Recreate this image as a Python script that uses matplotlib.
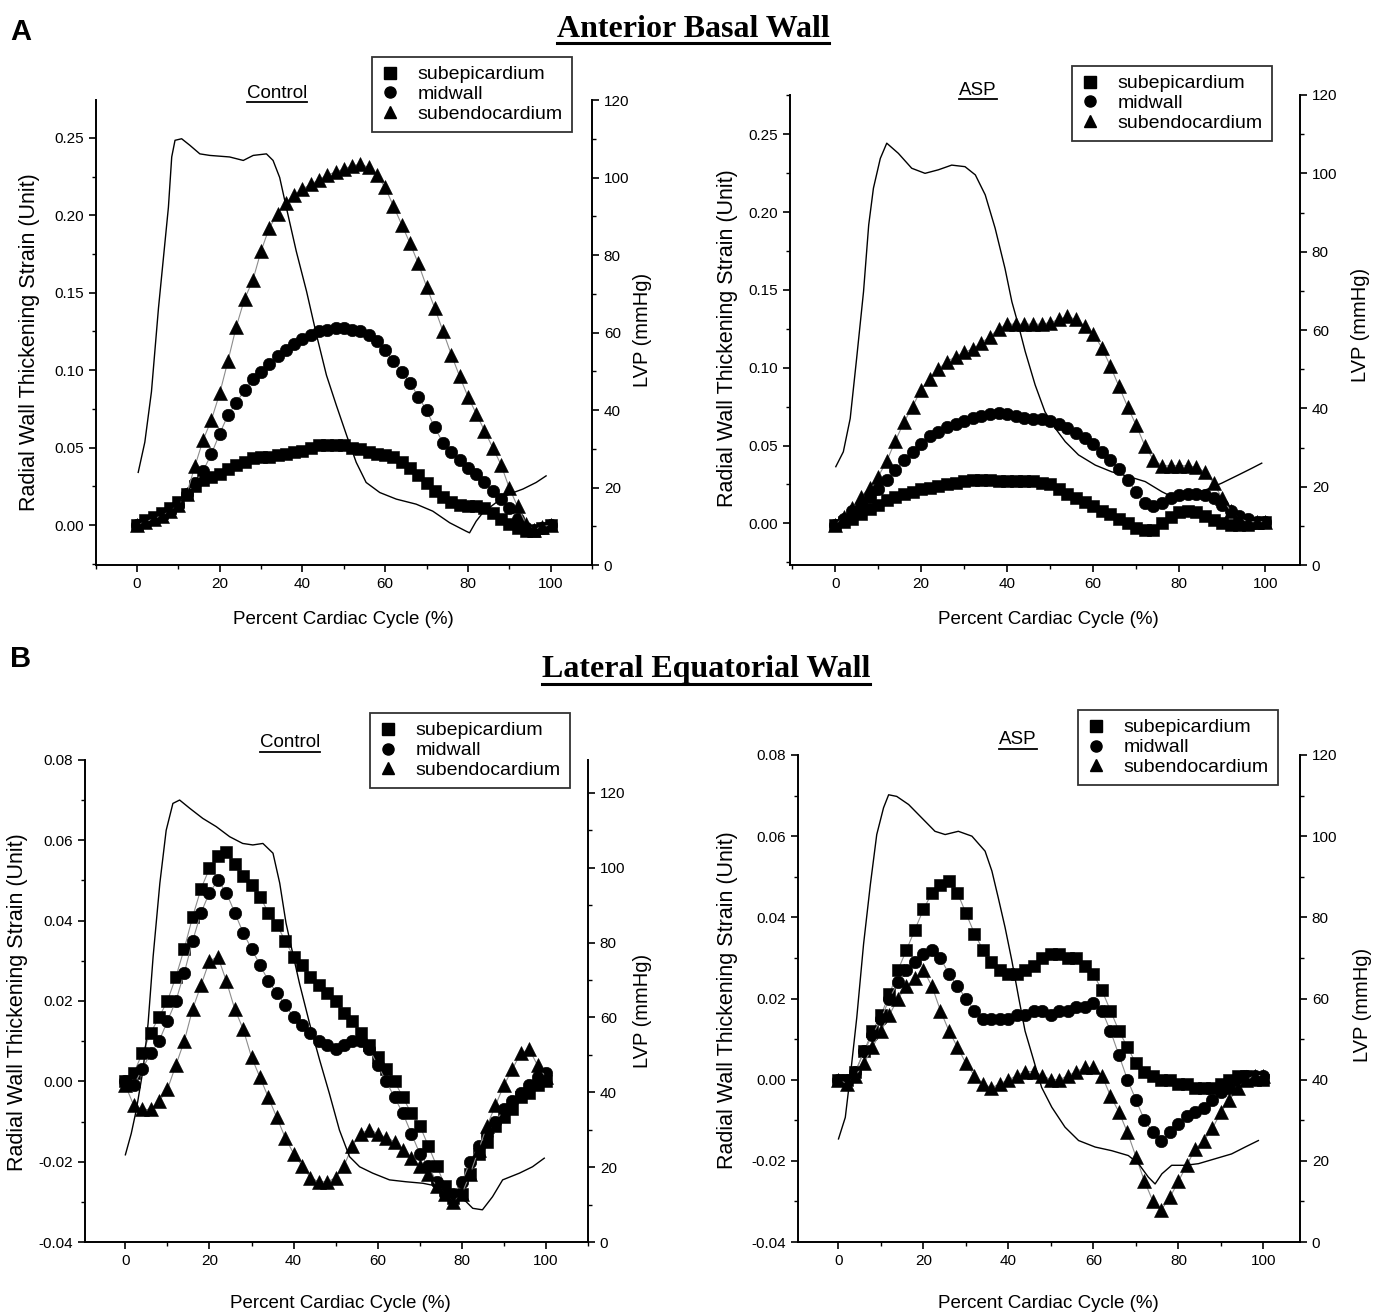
import numpy as np
import matplotlib.pyplot as plt
from matplotlib.lines import Line2D
from matplotlib.ticker import MultipleLocator, FormatStrFormatter

plt.rcParams['font.family'] = ['Liberation Sans', 'DejaVu Sans']

W, H = 1381, 1316

# percent of cardiac cycle (strain samples every 2 %)
pct = np.arange(0, 101, 2)

# ---------------- A: anterior basal wall ----------------
a_ctrl_epi = [0.000, 0.003, 0.005, 0.008, 0.011, 0.015, 0.020, 0.025, 0.029, 0.031,
              0.033, 0.036, 0.039, 0.041, 0.043, 0.044, 0.044, 0.045, 0.046, 0.047,
              0.048, 0.050, 0.052, 0.052, 0.052, 0.052, 0.050, 0.049, 0.047, 0.046,
              0.045, 0.044, 0.041, 0.037, 0.032, 0.027, 0.022, 0.018, 0.015, 0.013,
              0.012, 0.012, 0.011, 0.008, 0.004, 0.001, -0.002, -0.004, -0.004, -0.002, 0.000]
a_ctrl_mid = [0.000, 0.002, 0.004, 0.006, 0.009, 0.013, 0.020, 0.027, 0.035, 0.046,
              0.059, 0.071, 0.079, 0.087, 0.094, 0.099, 0.104, 0.109, 0.113, 0.117,
              0.120, 0.123, 0.125, 0.126, 0.127, 0.127, 0.126, 0.125, 0.123, 0.119,
              0.113, 0.106, 0.099, 0.092, 0.083, 0.074, 0.063, 0.053, 0.047, 0.042,
              0.037, 0.033, 0.028, 0.022, 0.017, 0.011, 0.004, -0.002, -0.003, -0.002, 0.000]
a_ctrl_endo = [0.000, 0.002, 0.004, 0.006, 0.009, 0.013, 0.020, 0.038, 0.055, 0.068,
               0.085, 0.106, 0.128, 0.146, 0.158, 0.177, 0.192, 0.201, 0.208, 0.213,
               0.217, 0.220, 0.223, 0.226, 0.228, 0.230, 0.232, 0.233, 0.231, 0.226,
               0.218, 0.206, 0.194, 0.182, 0.169, 0.154, 0.140, 0.125, 0.110, 0.096,
               0.083, 0.072, 0.061, 0.050, 0.039, 0.024, 0.012, 0.001, -0.003, -0.001, 0.000]
a_ctrl_lvp_x = [0.3, 1.9, 3.5, 5.2, 6.4, 7.6, 8.4, 9.2, 10.8, 12.8, 15.2, 17.6, 22.4, 25.7,
                28.1, 31.3, 32.9, 34.5, 36.1, 38.5, 41, 43.4, 45.8, 48.2, 50.7, 53, 55.4,
                58.7, 62.7, 67.5, 71.5, 75.6, 79.6, 80.4, 82, 83.6, 86.8, 90, 93.3, 96.5, 98.9]
a_ctrl_lvp = [23.9, 31.7, 44.7, 66.3, 79.3, 92.3, 105.3, 109.6, 110, 108.3, 106.1, 105.7,
              105.3, 104.4, 105.7, 106.1, 104.4, 100, 92.3, 81, 70.6, 59.4, 49, 41.2, 33.4,
              26.5, 21.3, 18.7, 17, 15.7, 13.9, 10.9, 8.7, 8.3, 11.3, 13.5, 16.1, 18.3, 19.6,
              21.3, 23]

a_asp_epi = [-0.001, 0.001, 0.003, 0.006, 0.009, 0.012, 0.015, 0.017, 0.019, 0.020,
             0.022, 0.023, 0.024, 0.025, 0.026, 0.027, 0.028, 0.028, 0.028, 0.027,
             0.027, 0.027, 0.027, 0.027, 0.026, 0.025, 0.022, 0.019, 0.016, 0.014,
             0.011, 0.008, 0.006, 0.003, 0.000, -0.003, -0.004, -0.004, 0.000, 0.004,
             0.007, 0.008, 0.007, 0.005, 0.002, 0.000, -0.001, -0.001, -0.001, 0.000, 0.001]
a_asp_mid = [-0.001, 0.003, 0.008, 0.012, 0.017, 0.022, 0.028, 0.034, 0.041, 0.046,
             0.051, 0.056, 0.059, 0.062, 0.064, 0.066, 0.068, 0.069, 0.070, 0.071,
             0.070, 0.069, 0.068, 0.067, 0.067, 0.066, 0.064, 0.061, 0.058, 0.055,
             0.051, 0.046, 0.041, 0.035, 0.028, 0.020, 0.013, 0.011, 0.013, 0.016,
             0.018, 0.019, 0.019, 0.018, 0.016, 0.012, 0.008, 0.005, 0.003, 0.001, 0.001]
a_asp_endo = [-0.001, 0.004, 0.010, 0.017, 0.023, 0.030, 0.040, 0.053, 0.065, 0.075,
              0.086, 0.093, 0.099, 0.104, 0.107, 0.110, 0.112, 0.116, 0.120, 0.125,
              0.128, 0.128, 0.128, 0.128, 0.128, 0.129, 0.131, 0.133, 0.131, 0.127,
              0.122, 0.113, 0.101, 0.088, 0.075, 0.063, 0.050, 0.041, 0.037, 0.037,
              0.037, 0.037, 0.036, 0.033, 0.026, 0.016, 0.008, 0.003, 0.001, 0.001, 0.001]
a_asp_lvp_x = [0.15, 1.9, 3.5, 5, 6.6, 7.8, 8.9, 10.5, 12, 14.7, 17.8, 20.9, 24, 27.1, 30.2,
               32.6, 34.9, 37.2, 39.5, 41.1, 42.6, 44.2, 46.5, 48.8, 51.2, 53.5, 56.6, 60.5,
               64.3, 68.2, 72.1, 76, 79.1, 82.2, 86, 89.9, 93.8, 96.9, 99.2]
a_asp_lvp = [25.1, 28.9, 37.4, 52.8, 69.8, 86.8, 96.2, 103.8, 107.7, 105.1, 101.3, 100,
             100.9, 102.1, 101.7, 99.6, 94.5, 86, 75.7, 67.2, 61.3, 54.5, 46, 39.1, 34.9,
             31.5, 28.1, 25.5, 23.8, 22.6, 21.3, 18.7, 17, 17.9, 19.1, 20.9, 23, 24.7, 26]

# ---------------- B: lateral equatorial wall ----------------
b_ctrl_epi = [0.000, 0.002, 0.007, 0.012, 0.016, 0.020, 0.026, 0.033, 0.041, 0.048,
              0.053, 0.056, 0.057, 0.054, 0.051, 0.049, 0.046, 0.042, 0.039, 0.035,
              0.031, 0.029, 0.026, 0.024, 0.022, 0.020, 0.017, 0.015, 0.012, 0.009,
              0.006, 0.003, 0.000, -0.004, -0.008, -0.011, -0.016, -0.021, -0.026, -0.029,
              -0.028, -0.023, -0.018, -0.015, -0.011, -0.009, -0.007, -0.004, -0.003, -0.001, 0.000]
b_ctrl_mid = [0.000, -0.001, 0.003, 0.007, 0.010, 0.015, 0.020, 0.027, 0.035, 0.042,
              0.047, 0.050, 0.047, 0.042, 0.037, 0.033, 0.029, 0.025, 0.022, 0.019,
              0.016, 0.014, 0.012, 0.010, 0.009, 0.008, 0.009, 0.010, 0.010, 0.008,
              0.004, 0.000, -0.004, -0.008, -0.013, -0.018, -0.021, -0.025, -0.028, -0.028,
              -0.025, -0.020, -0.016, -0.013, -0.010, -0.007, -0.005, -0.003, -0.001, 0.001, 0.002]
b_ctrl_endo = [-0.001, -0.006, -0.007, -0.007, -0.005, -0.002, 0.004, 0.010, 0.018, 0.024,
               0.030, 0.031, 0.025, 0.018, 0.013, 0.006, 0.001, -0.004, -0.009, -0.014,
               -0.018, -0.021, -0.024, -0.025, -0.025, -0.024, -0.021, -0.016, -0.013, -0.012,
               -0.013, -0.014, -0.015, -0.017, -0.019, -0.021, -0.023, -0.026, -0.028, -0.030,
               -0.028, -0.023, -0.017, -0.011, -0.006, -0.001, 0.003, 0.007, 0.008, 0.004, 0.001]
b_ctrl_lvp_x = [0, 1.4, 2.6, 4.2, 5.4, 6.6, 8.2, 9.7, 11.3, 12.9, 15.3, 18.4, 21.6, 24.8,
                27.9, 30.3, 32.7, 35.1, 36.7, 38.2, 39.8, 41.4, 43.8, 46.2, 48.5, 50.9, 53.3,
                55.7, 58.8, 62.8, 66.7, 70.7, 74.7, 77.8, 81, 82.6, 84.9, 87.3, 89.7, 93.7,
                96.8, 99.6]
b_ctrl_lvp = [23.3, 29, 35.3, 46, 58.4, 76.3, 95.9, 110, 117.2, 118.1, 115.9, 113.2, 111,
              108.3, 106.5, 106.1, 106.5, 103.9, 95.9, 85.2, 77.1, 69.1, 58.4, 48.6, 39.7,
              29.9, 22.8, 20.1, 18.4, 16.6, 16.1, 15.7, 14.8, 13, 10.8, 9, 8.6, 12.1, 16.6,
              18.4, 20.1, 22.4]

b_asp_epi = [0.000, 0.000, 0.002, 0.007, 0.012, 0.016, 0.021, 0.027, 0.032, 0.037,
             0.042, 0.046, 0.048, 0.049, 0.046, 0.041, 0.036, 0.032, 0.029, 0.027,
             0.026, 0.026, 0.027, 0.028, 0.030, 0.031, 0.031, 0.030, 0.030, 0.028,
             0.026, 0.022, 0.017, 0.012, 0.008, 0.004, 0.002, 0.001, 0.000, 0.000,
             -0.001, -0.001, -0.002, -0.002, -0.002, -0.001, 0.000, 0.001, 0.001, 0.000, 0.000]
b_asp_mid = [0.000, 0.000, 0.002, 0.007, 0.011, 0.015, 0.020, 0.024, 0.027, 0.029,
             0.031, 0.032, 0.030, 0.026, 0.023, 0.020, 0.017, 0.015, 0.015, 0.015,
             0.015, 0.016, 0.016, 0.017, 0.017, 0.016, 0.017, 0.017, 0.018, 0.018,
             0.019, 0.017, 0.012, 0.006, 0.000, -0.005, -0.010, -0.013, -0.015, -0.013,
             -0.011, -0.009, -0.008, -0.007, -0.005, -0.003, -0.002, 0.000, 0.001, 0.001, 0.001]
b_asp_endo = [0.000, -0.001, 0.001, 0.004, 0.008, 0.012, 0.016, 0.020, 0.023, 0.025,
              0.027, 0.023, 0.017, 0.012, 0.008, 0.004, 0.001, -0.001, -0.002, -0.001,
              0.000, 0.001, 0.002, 0.002, 0.001, 0.000, 0.000, 0.001, 0.002, 0.003,
              0.003, 0.001, -0.004, -0.008, -0.013, -0.019, -0.025, -0.030, -0.032, -0.029,
              -0.025, -0.021, -0.017, -0.015, -0.012, -0.008, -0.005, -0.002, 0.000, 0.001, 0.001]
b_asp_lvp_x = [0, 1.6, 3.1, 4.3, 5.9, 7.5, 9, 10.6, 11.8, 13.7, 16.5, 19.6, 22.7, 25.1, 28.2,
               31.4, 34.5, 36.1, 37.6, 39.2, 40.8, 42.4, 43.9, 45.5, 47.8, 50.2, 53.3, 56.5,
               60.4, 64.3, 68.2, 70.6, 72.9, 74.5, 76.1, 78.4, 81.6, 84.7, 88.6, 92.5, 95.7, 98.8]
b_asp_lvp = [25.4, 30.7, 43.9, 55.3, 73.4, 88.1, 100.4, 107, 110.2, 109.8, 107.8, 104.5,
             101.2, 100.4, 101.2, 100, 96.3, 91.4, 84.8, 77.5, 69.3, 60.2, 52, 46.3, 38.1,
             33.2, 28.3, 25, 23.4, 22.5, 21.3, 19.3, 16, 14.3, 16.8, 18.9, 18.9, 19.3, 20.5,
             21.7, 23.4, 25]

layer_names = ['subepicardium', 'midwall', 'subendocardium']
layer_markers = ['s', 'o', '^']
layer_sizes = [8.5, 9, 9.5]

fig = plt.figure(figsize=(W / 100, H / 100), dpi=100)


def rect(left, top, right, bottom):
    return [left / W, 1 - bottom / H, (right - left) / W, (bottom - top) / H]


def panel(box, xlim, ylim, ystep, lvp_top, series, lvp_x, lvp_y):
    ax = fig.add_axes(rect(*box))
    ax2 = ax.twinx()
    for vals, m, ms in zip(series, layer_markers, layer_sizes):
        ax.plot(pct, vals, color='0.55', lw=0.8, marker=m, ms=ms,
                mfc='black', mec='black', mew=0.4, zorder=3)
    ax2.plot(lvp_x, lvp_y, color='black', lw=1.0)
    ax.set_xlim(*xlim)
    ax.set_ylim(*ylim)
    ax2.set_ylim(0, lvp_top)
    ax.xaxis.set_major_locator(MultipleLocator(20))
    ax.xaxis.set_minor_locator(MultipleLocator(10))
    ax.yaxis.set_major_locator(MultipleLocator(ystep))
    ax.yaxis.set_minor_locator(MultipleLocator(ystep / 2))
    ax.yaxis.set_major_formatter(FormatStrFormatter('%.2f'))
    ax2.set_yticks([t for t in range(0, 121, 20)])
    ax2.yaxis.set_minor_locator(MultipleLocator(10))
    for a in (ax, ax2):
        a.spines['top'].set_visible(False)
        for s in ('left', 'right', 'bottom'):
            a.spines[s].set_linewidth(1.4)
        a.tick_params(which='major', direction='out', length=5, width=1.2, labelsize=11)
        a.tick_params(which='minor', direction='out', length=3, width=1.0)
    ax2.spines['left'].set_visible(False)
    ax2.spines['bottom'].set_visible(False)
    ax.spines['right'].set_visible(False)
    ax.patch.set_visible(False)
    return ax


def legend(ax, x, y):
    handles = [Line2D([], [], ls='none', marker=m, ms=8, color='black') for m in layer_markers]
    leg = ax.legend(handles, layer_names, loc='upper left',
                    bbox_to_anchor=(x / W, 1 - y / H), bbox_transform=fig.transFigure,
                    frameon=True, fancybox=False, edgecolor='black', fontsize=14,
                    handlelength=1.0, handletextpad=0.9, borderpad=0.45,
                    labelspacing=0.12, borderaxespad=0)
    leg.get_frame().set_linewidth(1.3)


def utext(x, y, s, size, uy, lw, **kw):
    t = fig.text(x / W, 1 - y / H, s, ha='center', va='baseline', fontsize=size, **kw)
    fig.canvas.draw()
    bb = t.get_window_extent()
    x0, x1 = bb.x0 / W, bb.x1 / W
    fig.add_artist(Line2D([x0, x1], [1 - uy / H] * 2, transform=fig.transFigure,
                          color='black', lw=lw))


ax_a1 = panel((95.6, 100, 592, 565), (-10, 110), (-0.0258, 0.2745), 0.05, 120,
              [a_ctrl_epi, a_ctrl_mid, a_ctrl_endo], a_ctrl_lvp_x, a_ctrl_lvp)
ax_a2 = panel((790, 95, 1300, 565), (-10.5, 108.1), (-0.0268, 0.2753), 0.05, 120,
              [a_asp_epi, a_asp_mid, a_asp_endo], a_asp_lvp_x, a_asp_lvp)
ax_b1 = panel((85, 760, 588, 1242), (-9.6, 110), (-0.04, 0.08), 0.02, 128.8,
              [b_ctrl_epi, b_ctrl_mid, b_ctrl_endo], b_ctrl_lvp_x, b_ctrl_lvp)
ax_b2 = panel((797.7, 755, 1300, 1242), (-9.6, 108.6), (-0.04, 0.08), 0.02, 120,
              [b_asp_epi, b_asp_mid, b_asp_endo], b_asp_lvp_x, b_asp_lvp)

legend(ax_a1, 372, 57)
legend(ax_a2, 1072, 66)
legend(ax_b1, 370, 713)
legend(ax_b2, 1078, 710)

ylab = 'Radial Wall Thickening Strain (Unit)'
for x, y in [(30, 342), (727, 338), (18, 1002), (727, 1000)]:
    fig.text(x / W, 1 - y / H, ylab, rotation=90, ha='center', va='center', fontsize=15.5)
for x, y in [(643, 330), (1360, 325), (643, 1011), (1362, 1005)]:
    fig.text(x / W, 1 - y / H, 'LVP (mmHg)', rotation=90, ha='center', va='center', fontsize=14.5)
for x, y in [(343, 620), (1048, 620), (340, 1303), (1048, 1303)]:
    fig.text(x / W, 1 - y / H, 'Percent Cardiac Cycle (%)', ha='center', va='center', fontsize=13.5)

fig.text(10 / W, 1 - 40 / H, 'A', fontsize=21, fontweight='bold', va='baseline')
fig.text(10 / W, 1 - 667 / H, 'B', fontsize=21, fontweight='bold', va='baseline')

utext(693, 37, 'Anterior Basal Wall', 23, 43, 2.2, family='Liberation Serif', fontweight='bold')
utext(706, 677, 'Lateral Equatorial Wall', 23, 684, 2.2, family='Liberation Serif', fontweight='bold')
utext(277, 98, 'Control', 13.5, 102, 1.3)
utext(978, 95, 'ASP', 13.5, 99, 1.3)
utext(290, 747, 'Control', 13.5, 752, 1.3)
utext(1018, 744, 'ASP', 13.5, 749, 1.3)

fig.savefig('out.png', dpi=100)
